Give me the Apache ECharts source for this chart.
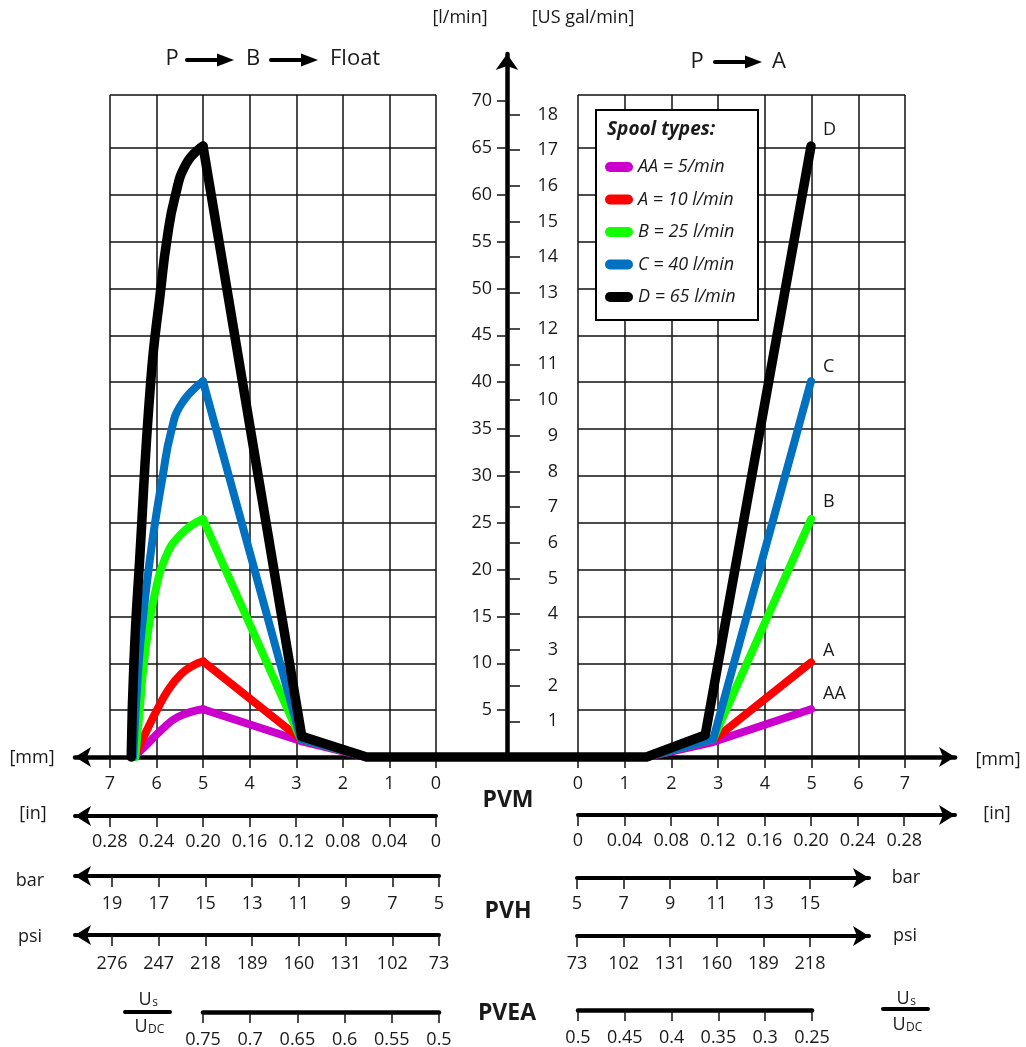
<!DOCTYPE html>
<html><head><meta charset="utf-8">
<script src="https://cdn.jsdelivr.net/npm/echarts@6/dist/echarts.min.js"></script>
<style>html,body{margin:0;padding:0;background:#fff}#c{width:1026px;height:1047px}</style>
</head><body><div id="c"></div>
<script>
// ---------------- DATA ----------------
const spoolNames = ['AA = 5/min', 'A = 10 l/min', 'B = 25 l/min', 'C = 40 l/min', 'D = 65 l/min'];
const endTags = ['AA', 'A', 'B', 'C', 'D'];
const spoolColors = ['#cc00cc', '#ff0000', '#11ff00', '#0070c0', '#000000'];

// Left side (P -> B -> Float): spool stroke [mm] and flow [l/min]
const leftStrokeAA = [6.42, 6.17, 5.89, 5.53, 5.0, 2.9, 1.49];
const leftFlowAA   = [0.3, 1.5, 2.9, 4.3, 5.1, 1.7, 0];
const leftStrokeA  = [6.42, 6.21, 5.99, 5.74, 5.46, 5.2, 5.0, 2.9, 1.49];
const leftFlowA    = [0.5, 2.8, 5.0, 7.2, 8.9, 9.8, 10.2, 1.9, 0];
const leftStrokeB  = [6.45, 6.36, 6.27, 6.16, 6.03, 5.83, 5.49, 5.0, 2.9, 1.49];
const leftFlowB    = [0, 5, 10, 14, 17.5, 21, 23.7, 25.4, 1.9, 0];
const leftStrokeC  = [6.5, 6.38, 6.27, 6.15, 6.02, 5.87, 5.69, 5.46, 5.0, 2.9, 1.49];
const leftFlowC    = [0, 10, 15.7, 20.7, 25.3, 29.8, 34.6, 37.7, 40.1, 1.9, 0];
const leftStrokeD  = [6.54, 6.48, 6.36, 6.12, 5.90, 5.78, 5.60, 5.35, 5.0, 2.88, 1.49];
const leftFlowD    = [0, 10.4, 21, 40.2, 50.2, 55, 59.8, 63.4, 65.2, 2.2, 0];

// Right side (P -> A)
const rightStrokeAA = [1.47, 2.9, 5.0];
const rightFlowAA   = [0, 1.6, 5.1];
const rightStrokeA  = [1.47, 2.95, 5.0];
const rightFlowA    = [0, 2.0, 10.1];
const rightStrokeB  = [1.47, 2.9, 5.0];
const rightFlowB    = [0, 1.9, 25.4];
const rightStrokeC  = [1.47, 2.9, 5.0];
const rightFlowC    = [0, 1.9, 40.1];
const rightStrokeD  = [1.47, 2.73, 5.0];
const rightFlowD    = [0, 2.35, 65.2];

// Tick labels
const mmTicks = [0, 1, 2, 3, 4, 5, 6, 7];
const inTicks = [0, 0.04, 0.08, 0.12, 0.16, 0.20, 0.24, 0.28];
const barTicksLeft = [5, 7, 9, 11, 13, 15, 17, 19];
const psiTicksLeft = [73, 102, 131, 160, 189, 218, 247, 276];
const barTicksRight = [5, 7, 9, 11, 13, 15];
const psiTicksRight = [73, 102, 131, 160, 189, 218];
const usTicksLeft = [0.5, 0.55, 0.6, 0.65, 0.7, 0.75];
const usTicksRight = [0.25, 0.3, 0.35, 0.4, 0.45, 0.5];
const flowTicks = [5, 10, 15, 20, 25, 30, 35, 40, 45, 50, 55, 60, 65, 70];
const galTicks = [1, 2, 3, 4, 5, 6, 7, 8, 9, 10, 11, 12, 13, 14, 15, 16, 17, 18];

// ---------------- LAYOUT ----------------
const H = 1047;
const FONT = "'Open Sans', 'Noto Sans', sans-serif";
const TXT = '#1a1a1a';
const FS = 18;
const AXIS_Y = 757, CX = 507, ZERO_L = 436, ZERO_R = 578, PX_MM = 46.6, PX_FLOW = 9.37, PANEL_TOP = 95;
const PX_GAL = 35.7;
const GAP_MM = (CX - ZERO_L) / PX_MM;
const FLOW_MAX = (AXIS_Y - PANEL_TOP) / PX_FLOW;
const CENTER_TOP = 54;

const leftS = [leftStrokeAA, leftStrokeA, leftStrokeB, leftStrokeC, leftStrokeD];
const leftF = [leftFlowAA, leftFlowA, leftFlowB, leftFlowC, leftFlowD];
const rightS = [rightStrokeAA, rightStrokeA, rightStrokeB, rightStrokeC, rightStrokeD];
const rightF = [rightFlowAA, rightFlowA, rightFlowB, rightFlowC, rightFlowD];

function peakIndex(k) {
  const f = leftF[k];
  let p = 0;
  f.forEach((v, i) => { if (v > f[p]) p = i; });
  return p;
}
// rising (curved) part of the left side: start .. peak
function risingPath(k) {
  const p = peakIndex(k);
  return leftS[k].slice(0, p + 1).map((m, i) => [-(m + GAP_MM), leftF[k][i]]);
}
// straight part: peak .. float .. right side
function straightPath(k) {
  const p = peakIndex(k);
  const pts = [];
  for (let i = p; i < leftS[k].length; i++) pts.push([-(leftS[k][i] + GAP_MM), leftF[k][i]]);
  rightS[k].forEach((m, i) => pts.push([m + GAP_MM, rightF[k][i]]));
  return pts;
}

const grids = [], xAxes = [], yAxes = [];
function addGrid(g) { grids.push(Object.assign({outerBoundsMode: 'none', containLabel: false, show: false}, g)); return grids.length - 1; }
const lbl = (extra) => Object.assign({color: TXT, fontSize: FS, fontFamily: FONT}, extra);
const tickStyle = {color: '#111', width: 1.5};

// 0: main data grid
const gMain = addGrid({left: 75, right: 1026 - 955, top: PANEL_TOP, bottom: H - AXIS_Y});
xAxes.push({gridIndex: gMain, type: 'value', min: (75 - CX) / PX_MM, max: (955 - CX) / PX_MM,
  axisLine: {show: true, onZero: false, symbol: ['arrow', 'arrow'], symbolSize: [15, 16], lineStyle: {color: '#000', width: 4.5}},
  axisTick: {show: false}, axisLabel: {show: false}, splitLine: {show: false}, silent: true});
yAxes.push({gridIndex: gMain, type: 'value', min: 0, max: FLOW_MAX, show: false});

// 1: center vertical axes
const gCenter = addGrid({left: CX, width: 60, top: CENTER_TOP, bottom: H - AXIS_Y});
xAxes.push({gridIndex: gCenter, type: 'value', min: 0, max: 1, show: false});
yAxes.push({gridIndex: gCenter, type: 'value', position: 'left', min: 0, max: (AXIS_Y - CENTER_TOP) / PX_FLOW,
  axisLine: {show: true, onZero: false, symbol: ['none', 'arrow'], symbolSize: [17, 16], lineStyle: {color: '#000', width: 4.5}},
  axisTick: {show: true, length: 10, customValues: flowTicks, lineStyle: tickStyle},
  axisLabel: lbl({show: true, margin: 15, customValues: flowTicks}), splitLine: {show: false}, silent: true});
yAxes.push({gridIndex: gCenter, type: 'value', position: 'left', offset: 0, min: 0, max: (AXIS_Y - CENTER_TOP) / PX_GAL,
  axisLine: {show: false, onZero: false},
  axisTick: {show: true, inside: true, length: 13, customValues: galTicks, lineStyle: tickStyle},
  axisLabel: lbl({show: true, inside: true, margin: 51, align: 'right', customValues: galTicks}), splitLine: {show: false}, silent: true});

// panels
const hideColors = [];
for (let i = 0; i < 16; i++) hideColors.push(i === 14 ? 'rgba(0,0,0,0)' : '#111');
function addPanel(left, width, inverse) {
  const g = addGrid({left, width, top: PANEL_TOP, bottom: H - AXIS_Y});
  xAxes.push({gridIndex: g, type: 'value', min: 0, max: 7, interval: 1, inverse,
    axisLine: {show: false}, axisTick: {show: true, length: 11, lineStyle: tickStyle},
    axisLabel: lbl({show: true, margin: 18, showMinLabel: true, showMaxLabel: true}),
    splitLine: {show: true, lineStyle: {color: '#111', width: 1.5}}, silent: true});
  yAxes.push({gridIndex: g, type: 'value', min: 0, max: FLOW_MAX, interval: 5,
    axisLine: {show: false}, axisTick: {show: false}, axisLabel: {show: false},
    splitLine: {show: true, lineStyle: {color: hideColors, width: 1.5}}, silent: true});
}
addPanel(110, ZERO_L - 110, true);
addPanel(ZERO_R, 905 - ZERO_R, false);

// bottom scales
function addScale(o) {
  const g = addGrid({left: o.left, width: o.width, top: o.y - 10, height: 10});
  xAxes.push({gridIndex: g, type: 'value', min: o.min, max: o.max, inverse: o.inverse,
    axisLine: {show: true, symbol: o.symbol || ['none', 'none'], symbolSize: [15, 16],
      lineStyle: {color: '#000', width: o.lw || 4, cap: 'round'}},
    axisTick: {show: true, length: 11, customValues: o.ticks, lineStyle: tickStyle},
    axisLabel: lbl({show: true, margin: o.margin || 17, customValues: o.ticks, formatter: o.fmt}),
    splitLine: {show: false}, silent: true});
  yAxes.push({gridIndex: g, type: 'value', min: 0, max: 1, show: false});
}
const fmtIn = v => (v === 0 ? '0' : Number(v).toFixed(2));
const fmtNum = v => String(Math.round(v * 100) / 100);
// inches
addScale({left: 75, width: ZERO_L - 75, y: 816, min: 0, max: (ZERO_L - 75) / PX_MM * 0.04, inverse: true, symbol: ['arrow', 'none'], ticks: inTicks, fmt: fmtIn});
addScale({left: ZERO_R, width: 955 - ZERO_R, y: 815, min: 0, max: (955 - ZERO_R) / PX_MM * 0.04, inverse: false, symbol: ['none', 'arrow'], ticks: inTicks, fmt: fmtIn});
// bar
addScale({left: 75, width: 364, y: 876, min: 5, max: 5 + 364 / ((439 - 112) / 14), inverse: true, symbol: ['arrow', 'none'], ticks: barTicksLeft, fmt: fmtNum, margin: 19});
addScale({left: 577, width: 292, y: 878, min: 5, max: 5 + 292 / ((810 - 577) / 10), inverse: false, symbol: ['none', 'arrow'], ticks: barTicksRight, fmt: fmtNum, margin: 17});
// psi
addScale({left: 75, width: 364, y: 935, min: 73, max: 73 + 364 / ((439 - 112) / 203), inverse: true, symbol: ['arrow', 'none'], ticks: psiTicksLeft, fmt: fmtNum, margin: 20});
addScale({left: 577, width: 292, y: 936, min: 73, max: 73 + 292 / ((810 - 577) / 145), inverse: false, symbol: ['none', 'arrow'], ticks: psiTicksRight, fmt: fmtNum, margin: 19});
// Us/UDC
addScale({left: 203, width: 236, y: 1012, min: 0.5, max: 0.75, inverse: true, ticks: usTicksLeft, fmt: fmtNum, lw: 4.5, margin: 19});
addScale({left: 578, width: 234, y: 1010, min: 0.25, max: 0.5, inverse: true, ticks: usTicksRight, fmt: fmtNum, lw: 4.5, margin: 19});

// ---------------- SERIES ----------------
const endOffsets = [[12, -15], [12, -11], [12, -17], [12, -14], [12, -16]];
const series = [];
spoolNames.forEach((name, k) => {
  const lw = k === 4 ? 9.5 : 8;
  series.push({
    type: 'line', name, xAxisIndex: 0, yAxisIndex: 0, data: risingPath(k), smooth: 0.5,
    showSymbol: false, symbol: 'none', color: spoolColors[k], itemStyle: {color: spoolColors[k]},
    lineStyle: {width: lw, color: spoolColors[k], cap: 'round', join: 'round'},
    emphasis: {disabled: true}, silent: true, animation: false, z: 3 + k, clip: false
  });
  series.push({
    type: 'line', name, xAxisIndex: 0, yAxisIndex: 0, data: straightPath(k),
    showSymbol: false, symbol: 'none', color: spoolColors[k], itemStyle: {color: spoolColors[k]},
    lineStyle: {width: lw, color: spoolColors[k], cap: 'round', join: 'round'},
    endLabel: {show: true, formatter: endTags[k], distance: 0, offset: endOffsets[k], color: TXT, fontSize: FS, fontFamily: FONT},
    emphasis: {disabled: true}, silent: true, animation: false, z: 3 + k, clip: false
  });
});

// ---------------- GRAPHIC ----------------
function text(x, y, t, o) {
  o = o || {};
  const al = o.align || 'center';
  return {type: 'text', x, y, z: 30, silent: true,
    style: {text: t, fill: TXT, fontSize: o.size || FS, fontFamily: FONT, fontWeight: o.weight || 'normal', fontStyle: o.style || 'normal',
      align: al, textAlign: al, verticalAlign: 'middle', textVerticalAlign: 'middle'}};
}
function arrow(x1, x2, y) {
  return [
    {type: 'line', z: 30, silent: true, shape: {x1, y1: y, x2: x2 - 12, y2: y}, style: {stroke: '#000', lineWidth: 4, lineCap: 'round'}},
    {type: 'polygon', z: 30, silent: true, shape: {points: [[x2 - 17, y - 6.5], [x2, y], [x2 - 17, y + 6.5]]}, style: {fill: '#000'}}
  ];
}
function fraction(cx, yTop, yLine, yBot, x1, x2) {
  return [
    text(cx - 2, yTop, 'U', {size: 18}), text(cx + 8, yTop + 3, 's', {size: 12, align: 'center'}),
    {type: 'line', z: 30, silent: true, shape: {x1, y1: yLine, x2, y2: yLine}, style: {stroke: '#000', lineWidth: 4, lineCap: 'round'}},
    text(cx - 6, yBot, 'U', {size: 18}), text(cx + 1, yBot + 3, 'DC', {size: 12, align: 'left'})
  ];
}
const graphic = [].concat(
  [text(172, 59, 'P', {size: 22}), text(253, 59, 'B', {size: 22}), text(330, 59, 'Float', {size: 22, align: 'left'})],
  arrow(187, 234, 60), arrow(271, 318, 60),
  [text(697, 62, 'P', {size: 22}), text(779, 62, 'A', {size: 22})],
  arrow(715, 762, 62),
  [text(460, 18, '[l/min]'), text(583, 18, '[US gal/min]')],
  [text(32, 758, '[mm]'), text(998, 760, '[mm]'), text(33, 814, '[in]'), text(997, 814, '[in]'),
   text(30, 881, 'bar'), text(906, 878, 'bar'), text(30, 937, 'psi'), text(905, 936, 'psi')],
  [text(508, 800, 'PVM', {size: 23, weight: 'bold'}), text(508, 911, 'PVH', {size: 23, weight: 'bold'}), text(507, 1013, 'PVEA', {size: 23, weight: 'bold'})],
  fraction(147, 1000, 1012, 1027, 125, 170),
  fraction(905, 999, 1009, 1025, 883, 928),
  [{type: 'rect', z: 10, silent: true, shape: {x: 596, y: 110, width: 162, height: 210}, style: {fill: '#fff', stroke: '#000', lineWidth: 2}},
   text(607, 130, 'Spool types:', {size: 19, weight: 'bold', style: 'italic', align: 'left'})]
);

const chart = echarts.init(document.getElementById('c'), null, {renderer: 'canvas'});
chart.setOption({
  backgroundColor: '#fff',
  animation: false,
  textStyle: {fontFamily: FONT},
  grid: grids, xAxis: xAxes, yAxis: yAxes, series,
  legend: {data: spoolNames, orient: 'vertical', left: 605, top: 158, padding: 0, itemWidth: 28, itemHeight: 10, itemGap: 14.5,
    icon: 'path://M5 0H23A5 5 0 0 1 23 10H5A5 5 0 0 1 5 0Z', selectedMode: false, z: 20,
    textStyle: {fontFamily: FONT, fontSize: 18, fontStyle: 'italic', color: TXT}},
  graphic
});
</script></body></html>
